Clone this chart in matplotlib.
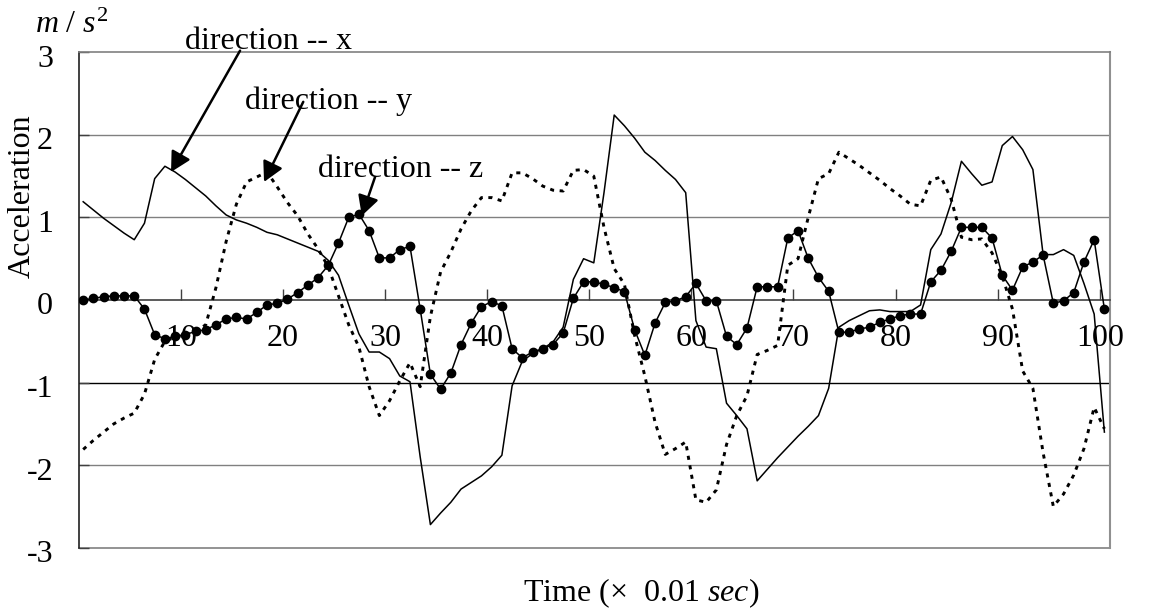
import matplotlib
matplotlib.use("Agg")
import matplotlib.pyplot as plt
import numpy as np

plt.rcParams['font.family'] = ['Liberation Serif', 'DejaVu Serif']
plt.rcParams['mathtext.fontset'] = 'custom'
plt.rcParams['mathtext.rm'] = 'Liberation Serif'
plt.rcParams['mathtext.it'] = 'Liberation Serif:italic'

# ---- data (time index in 0.01 s) ----
time = list(range(101))

accel_x = [1.19, 1.09, 0.99, 0.90, 0.81, 0.73, 0.93, 1.47, 1.62, 1.55,
           1.46, 1.36, 1.26, 1.14, 1.03, 0.97, 0.93, 0.88, 0.82, 0.79,
           0.74, 0.69, 0.64, 0.59, 0.48, 0.30, -0.06, -0.41, -0.63, -0.63,
           -0.71, -0.92, -0.99, -1.90, -2.72, -2.58, -2.45, -2.29, -2.21, -2.13,
           -2.02, -1.88, -1.04, -0.74, -0.65, -0.59, -0.51, -0.33, 0.25, 0.50,
           0.45, 1.30, 2.24, 2.11, 1.96, 1.79, 1.69, 1.57, 1.46, 1.30,
           -0.25, -0.57, -0.59, -1.25, -1.40, -1.56, -2.19, -2.05, -1.91, -1.78,
           -1.65, -1.53, -1.40, -1.07, -0.33, -0.25, -0.19, -0.13, -0.12, -0.14,
           -0.14, -0.14, -0.06, 0.61, 0.80, 1.18, 1.68, 1.53, 1.39, 1.43,
           1.87, 1.98, 1.82, 1.58, 0.55, 0.55, 0.61, 0.54, 0.20, -0.17,
           -1.60]

accel_y = [-1.81, -1.70, -1.60, -1.50, -1.43, -1.37, -1.14, -0.72, -0.50, -0.45,
           -0.42, -0.38, -0.30, 0.15, 0.71, 1.16, 1.43, 1.49, 1.55, 1.37,
           1.18, 1.02, 0.80, 0.62, 0.40, 0.05, -0.30, -0.57, -1.05, -1.40,
           -1.22, -0.98, -0.76, -1.05, -0.20, 0.34, 0.58, 0.86, 1.08, 1.24,
           1.24, 1.20, 1.54, 1.54, 1.47, 1.38, 1.33, 1.32, 1.57, 1.58,
           1.50, 0.88, 0.38, 0.19, -0.43, -0.92, -1.48, -1.87, -1.80, -1.72,
           -2.42, -2.45, -2.30, -1.75, -1.40, -1.16, -0.66, -0.61, -0.55, 0.42,
           0.50, 1.00, 1.47, 1.53, 1.79, 1.71, 1.63, 1.54, 1.45, 1.35,
           1.26, 1.16, 1.14, 1.45, 1.49, 1.22, 0.76, 0.73, 0.74, 0.57,
           0.29, -0.11, -0.86, -1.07, -1.85, -2.50, -2.35, -2.12, -1.80, -1.30,
           -1.56]

accel_z = [0.00, 0.02, 0.04, 0.05, 0.05, 0.05, -0.11, -0.42, -0.47, -0.44,
           -0.42, -0.38, -0.36, -0.30, -0.23, -0.21, -0.23, -0.15, -0.06, -0.04,
           0.01, 0.09, 0.18, 0.27, 0.42, 0.69, 1.00, 1.04, 0.84, 0.51,
           0.51, 0.61, 0.65, -0.11, -0.90, -1.08, -0.885, -0.54, -0.28, -0.08,
           -0.02, -0.07, -0.59, -0.70, -0.63, -0.59, -0.54, -0.40, 0.02, 0.22,
           0.22, 0.19, 0.15, 0.10, -0.36, -0.67, -0.28, -0.03, -0.01, 0.04,
           0.20, -0.01, -0.01, -0.44, -0.54, -0.34, 0.16, 0.16, 0.16, 0.75,
           0.84, 0.505, 0.275, 0.105, -0.39, -0.39, -0.35, -0.33, -0.27, -0.23,
           -0.19, -0.17, -0.17, 0.22, 0.36, 0.59, 0.88, 0.88, 0.88, 0.75,
           0.30, 0.12, 0.40, 0.46, 0.545, -0.04, -0.01, 0.09, 0.46, 0.73,
           -0.11]

x_ticks = [10, 20, 30, 40, 50, 60, 70, 80, 90, 100]
y_ticks = [3, 2, 1, 0, -1, -2, -3]

FS = 23

W, H = 1149, 614
fig = plt.figure(figsize=(W / 100, H / 100), dpi=100)
ax = fig.add_axes([78.6 / W, 1 - 547.7 / H, (1110 - 78.6) / W, (547.7 - 52.3) / H])

t = np.array(time) + 0.45   # points sit inside each time category

# gridlines
ax.axhline(2, color='#808080', lw=1.0, zorder=1)
ax.axhline(1, color='#808080', lw=1.0, zorder=1)
ax.axhline(-1, color='black', lw=1.0, zorder=1)
ax.axhline(-2, color='#808080', lw=1.0, zorder=1)
ax.axhline(-3, color='#808080', lw=1.2, zorder=1, clip_on=False)

ax.plot(t, accel_x, color='black', lw=1.1, zorder=3)
ax.plot(t, accel_y, color='black', lw=2.1, linestyle=(0, (1.4, 1.9)),
        dash_capstyle='butt', zorder=3)
ax.plot(t, accel_z, color='black', lw=1.1, marker='o', markersize=6.0, zorder=4)

ax.set_xlim(0, 101)
ax.set_ylim(-3, 3)

# spines
ax.spines['bottom'].set_position(('data', 0))
ax.spines['bottom'].set_color('#404040')
ax.spines['bottom'].set_linewidth(1.2)
ax.spines['top'].set_color('#808080')
ax.spines['top'].set_linewidth(1.2)
ax.spines['right'].set_color('#909090')
ax.spines['right'].set_linewidth(1.5)
ax.spines['left'].set_color('#202020')
ax.spines['left'].set_linewidth(1.2)

ax.set_xticks(x_ticks)
ax.set_yticks(y_ticks)
ax.tick_params(axis='x', direction='in', length=8, width=1.0, color='#404040',
               labelbottom=False)
ax.tick_params(axis='y', direction='in', length=7.2, width=1.0, color='#404040',
               labelleft=False)

for v in x_ticks:
    ax.text(v, -0.555, str(v), ha='center', va='baseline', fontsize=FS, zorder=5)
for v in y_ticks:
    ax.text(-2.5, v - 0.175, str(v), ha='right', va='baseline', fontsize=FS,
            clip_on=False)

# axis titles
fig.text(22 / W, 1 - 196 / H, 'Acceleration', rotation=90, ha='center',
         va='center', fontsize=FS)
fig.text(35 / W, 1 - 33 / H, r'$m\ \mathrm{/}\ s^{\mathrm{2}}$', ha='left',
         va='baseline', fontsize=FS)
fig.text(641 / W, 1 - 601 / H, 'Time (×  0.01 $\\mathit{sec)}$', ha='center',
         va='baseline', fontsize=FS)

# annotations
arrow = dict(arrowstyle='-|>,head_length=0.6,head_width=0.32', color='black',
             lw=1.8, mutation_scale=20, shrinkA=0, shrinkB=0)
ax.text(10.42, 3.04, 'direction -- x', ha='left', va='baseline', fontsize=FS)
ax.annotate('', xy=(9.05, 1.55), xytext=(15.81, 3.02), arrowprops=arrow,
            annotation_clip=False, zorder=6)
ax.text(16.3, 2.315, 'direction -- y', ha='left', va='baseline', fontsize=FS)
ax.annotate('', xy=(18.16, 1.43), xytext=(22.0, 2.40), arrowprops=arrow,
            annotation_clip=False, zorder=6)
ax.text(23.48, 1.487, 'direction -- z', ha='left', va='baseline', fontsize=FS)
ax.annotate('', xy=(27.73, 1.02), xytext=(29.03, 1.49), arrowprops=arrow,
            annotation_clip=False, zorder=6)

fig.savefig('out.png', dpi=100)
